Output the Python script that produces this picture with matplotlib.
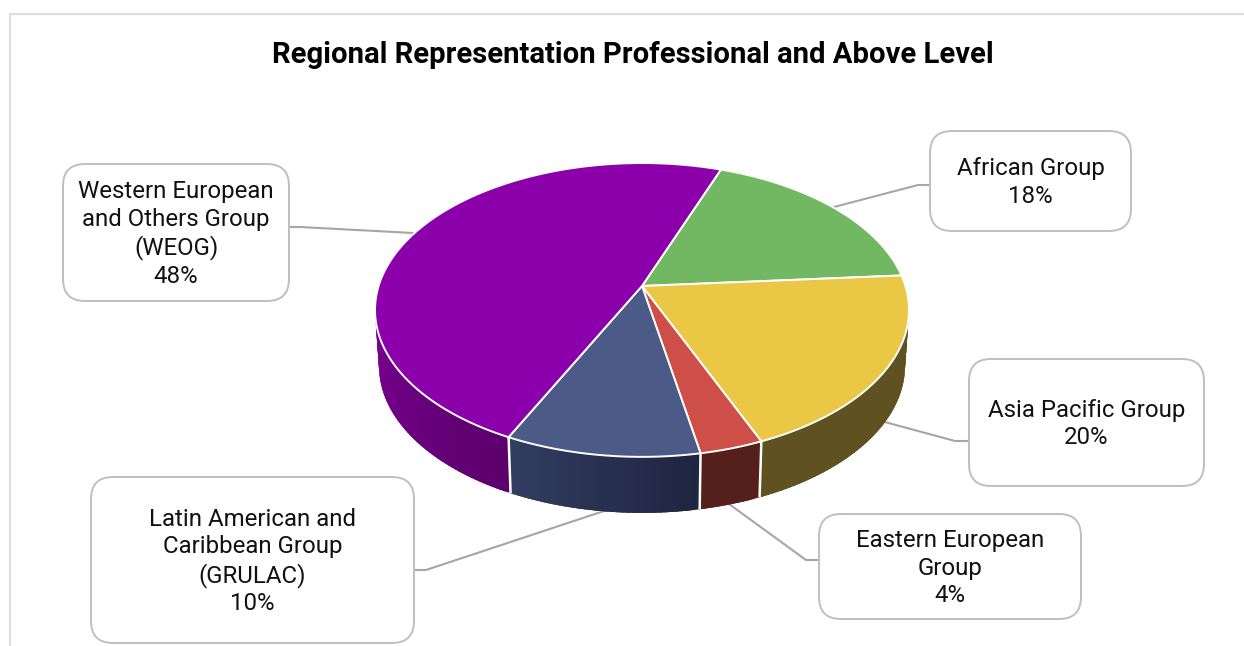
import numpy as np
import matplotlib
matplotlib.use("Agg")
import matplotlib.pyplot as plt
from matplotlib.patches import Polygon, FancyBboxPatch

plt.rcParams['font.family'] = ['Roboto', 'DejaVu Sans']

TITLE = "Regional Representation Professional and Above Level"
names = ["African Group", "Asia Pacific Group", "Eastern European\nGroup",
         "Latin American and\nCaribbean Group\n(GRULAC)",
         "Western European\nand Others Group\n(WEOG)"]
values = [18.2, 19.9, 3.3, 10.1, 48.5]   # slice shares
pct_labels = ["18%", "20%", "4%", "10%", "48%"]   # as printed on the labels
top_colors = ["#72B862", "#EAC745", "#CD4F47", "#4B5A87", "#8B00AB"]
wall_start = ["#4A7840", "#5F5120", "#551F1B", "#1F2440", "#5C006C"]
wall_end = ["#4A7840", "#5F5120", "#551F1B", "#333E63", "#800099"]

# label boxes: x0, y0, x1, y1 in picture pixels
boxes = [(930, 131, 1131, 231), (969, 359, 1204, 486), (819, 514, 1081, 619),
         (91, 477, 414, 643), (63, 164, 289, 301)]
leaders = [[(930, 185), (918, 185), (834, 207)],
           [(969, 441), (955, 441), (881, 421)],
           [(819, 560), (806, 560), (729, 504)],
           [(414, 570), (426, 570), (604, 511)],
           [(289, 227), (300, 227), (413, 233)]]

CX, CY, A, B, K = 642.0, 286.0, 263.4, 143.0, 0.163
START = 20.2
DEPTH = 56.0
NARROW = 0.985


def project(theta):
    """Disc angle (clockwise from top, degrees) to picture pixels, in perspective."""
    t = np.radians(theta)
    u, v = np.sin(t), np.cos(t)
    w = 1 + K * v
    return CX + A * u / w, CY - B * v / w


def lerp(c0, c1, f):
    a = np.array(matplotlib.colors.to_rgb(c0))
    b = np.array(matplotlib.colors.to_rgb(c1))
    return tuple(a + (b - a) * f)


fig = plt.figure(figsize=(12.44, 6.46), dpi=100, facecolor="white")
ax = fig.add_axes([0, 0, 1, 1])
ax.set_xlim(0, 1244)
ax.set_ylim(646, 0)
ax.axis("off")

# chart frame, cropped by the picture
ax.plot([10, 10, 1244], [646, 14, 14], color="#DEDEDE", lw=1.6, zorder=0)

edges = START + np.concatenate([[0], np.cumsum(values)]) * 3.6

# leader lines
for pts in leaders:
    xs, ys = zip(*pts)
    ax.plot(xs, ys, color="#A6A6A6", lw=1.5, zorder=1, solid_joinstyle="round")

# side walls: overlapping slices, so that no seams show in the gradient
for i in range(len(values)):
    a0, a1 = edges[i], edges[i + 1]
    vis_end = min(a1, 272.0)
    n = max(int(a1 - a0), 2)
    steps = np.linspace(a0, a1, n + 1)
    for j in range(n):
        th = np.linspace(steps[j], a1 if j == n - 1 else min(steps[j + 1] + 1.5, a1), 5)
        x, y = project(th)
        xb, yb = CX + (x - CX) * NARROW, y + DEPTH
        poly = np.column_stack([np.r_[x, xb[::-1]], np.r_[y, yb[::-1]]])
        f = min(1.0, (steps[j] - a0) / max(vis_end - a0, 1e-6))
        col = lerp(wall_start[i], wall_end[i], f)
        ax.add_patch(Polygon(poly, closed=True, facecolor=col, edgecolor="none",
                             zorder=2))

# white seams between the walls on the near side
for e in edges[1:]:
    a = (e - 360) if e > 360 else e
    if 90 < a < 270:
        x, y = project(a)
        ax.plot([x, CX + (x - CX) * NARROW], [y, y + DEPTH], color="white",
                lw=1.8, zorder=3, solid_capstyle="butt")

# top faces
for i in range(len(values)):
    th = np.linspace(edges[i], edges[i + 1], 200)
    x, y = project(th)
    poly = np.column_stack([np.r_[CX, x], np.r_[CY, y]])
    ax.add_patch(Polygon(poly, closed=True, facecolor=top_colors[i],
                         edgecolor="white", lw=1.4, zorder=4,
                         joinstyle="round"))

# label boxes
for name, pct, (x0, y0, x1, y1) in zip(names, pct_labels, boxes):
    ax.add_patch(FancyBboxPatch((x0 + 22, y0 + 22), x1 - x0 - 44, y1 - y0 - 44,
                                boxstyle="round,pad=22,rounding_size=22",
                                facecolor="white", edgecolor="#BFBFBF",
                                lw=1.4, zorder=5))
    ax.text((x0 + x1) / 2, (y0 + y1) / 2 + 1.5, f"{name}\n{pct}", ha="center",
            va="center", fontsize=17.3, color="#111111", linespacing=1.25,
            zorder=6)

ax.text(633, 55, TITLE, ha="center", va="center", fontsize=21.1,
        fontweight="bold", color="black", zorder=6)

fig.savefig("out.png", dpi=100, facecolor="white")
